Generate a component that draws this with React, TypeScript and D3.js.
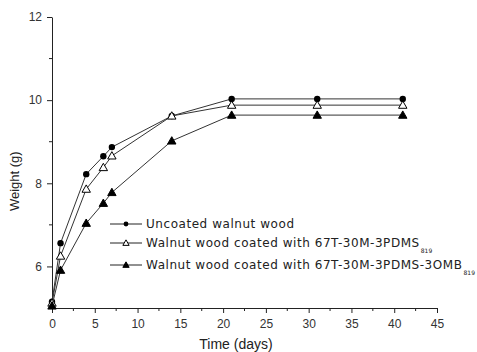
import React, { useEffect, useRef } from "react";
import * as d3 from "d3";

// days at which each sample was weighed
const days = [0, 1, 4, 6, 7, 14, 21, 31, 41];

const uncoated = [5.15, 6.56, 8.22, 8.65, 8.87, 9.62, 10.03, 10.03, 10.03];
const coatedPdms = [5.12, 6.25, 7.86, 8.38, 8.66, 9.62, 9.88, 9.88, 9.88];
const coatedOmb = [5.05, 5.91, 7.04, 7.52, 7.78, 9.02, 9.64, 9.64, 9.64];

const xTicks = [0, 5, 10, 15, 20, 25, 30, 35, 40, 45];
const yTicks = [6, 8, 10, 12];

const seriesLabels = [
  { main: "Uncoated walnut wood", sub: "" },
  { main: "Walnut wood coated with 67T-30M-3PDMS", sub: "819" },
  { main: "Walnut wood coated with  67T-30M-3PDMS-3OMB", sub: "819" },
];
const markers = ["circle", "openTriangle", "triangle"];

const W = 477;
const H = 352;

const App: React.FC = () => {
  const svgRef = useRef<SVGSVGElement>(null);

  useEffect(() => {
    if (!svgRef.current) return;
    const svg = d3.select(svgRef.current);
    svg.selectAll("*").remove();

    const margin = { top: 17, right: 40, bottom: 44, left: 52 };
    const innerH = H - margin.top - margin.bottom;
    const font = "Liberation Sans, Arial, sans-serif";
    const legendFont = "DejaVu Sans, sans-serif";

    const x = d3.scaleLinear().domain([0, 45]).range([0, 385]);
    const y = d3.scaleLinear().domain([5, 12]).range([innerH, 0]);

    const g = svg.append("g").attr("transform", `translate(${margin.left},${margin.top})`);

    // x axis
    const xAxis = g.append("g").attr("transform", `translate(0,${innerH})`);
    xAxis.call(d3.axisBottom(x).tickValues(xTicks).tickSize(5).tickSizeOuter(0).tickPadding(6));
    xAxis
      .selectAll(".minor")
      .data(d3.range(2.5, 45, 5))
      .enter()
      .append("line")
      .attr("x1", (d) => x(d))
      .attr("x2", (d) => x(d))
      .attr("y1", 0)
      .attr("y2", 3)
      .attr("stroke", "#222");

    // y axis
    const yAxis = g.append("g");
    yAxis.call(
      d3.axisLeft(y).tickValues(yTicks).tickFormat(d3.format("d")).tickSize(5).tickSizeOuter(0).tickPadding(5)
    );
    yAxis
      .selectAll(".minor")
      .data([7, 9, 11])
      .enter()
      .append("line")
      .attr("x1", 0)
      .attr("x2", -3)
      .attr("y1", (d) => y(d))
      .attr("y2", (d) => y(d))
      .attr("stroke", "#222");

    [xAxis, yAxis].forEach((a) => {
      a.selectAll("path").attr("stroke", "#222");
      a.selectAll(".tick line").attr("stroke", "#222");
      a.selectAll("text").attr("font-family", font).attr("font-size", 12).attr("fill", "#333");
    });

    // axis titles
    svg
      .append("text")
      .attr("x", margin.left + x(21.5))
      .attr("y", 349)
      .attr("text-anchor", "middle")
      .attr("font-family", font)
      .attr("font-size", 14)
      .attr("fill", "#222")
      .text("Time (days)");
    svg
      .append("text")
      .attr("transform", `translate(19,${margin.top + y(8.05)}) rotate(-90)`)
      .attr("text-anchor", "middle")
      .attr("font-family", font)
      .attr("font-size", 13)
      .attr("fill", "#222")
      .text("Weight (g)");

    const drawMarker = (
      sel: d3.Selection<SVGGElement, unknown, null, undefined>,
      kind: string,
      cx: number,
      cy: number,
      scale = 1
    ) => {
      if (kind === "circle") {
        sel.append("circle").attr("cx", cx).attr("cy", cy).attr("r", 3.2 * scale).attr("fill", "#000");
      } else {
        const s = 4.2 * scale;
        sel
          .append("path")
          .attr("d", `M${cx},${cy - s}L${cx + s},${cy + s * 0.75}L${cx - s},${cy + s * 0.75}Z`)
          .attr("fill", kind === "triangle" ? "#000" : "#fff")
          .attr("stroke", "#000")
          .attr("stroke-width", 1);
      }
    };

    const line = d3
      .line<number>()
      .x((_, i) => x(days[i]))
      .y((d) => y(d));

    [uncoated, coatedPdms, coatedOmb].forEach((vals, si) => {
      g.append("path")
        .attr("d", line(vals) as string)
        .attr("fill", "none")
        .attr("stroke", "#333")
        .attr("stroke-width", 1);
      const mg = g.append("g");
      vals.forEach((v, i) => drawMarker(mg, markers[si], x(days[i]), y(v)));
    });

    // legend
    const legY = [224, 243, 265];
    seriesLabels.forEach((lab, i) => {
      const lg = svg.append("g") as d3.Selection<SVGGElement, unknown, null, undefined>;
      lg.append("line")
        .attr("x1", 110)
        .attr("x2", 142)
        .attr("y1", legY[i])
        .attr("y2", legY[i])
        .attr("stroke", "#222");
      drawMarker(lg, markers[i], 126, legY[i], 0.75);
      const t = lg
        .append("text")
        .attr("x", 146)
        .attr("y", legY[i] + 4)
        .attr("font-family", legendFont)
        .attr("font-size", 12)
        .attr("letter-spacing", 0.55)
        .attr("fill", "#222")
        .text(lab.main);
      if (lab.sub) {
        t.append("tspan").attr("dx", 1).attr("dy", 6).attr("font-size", 6).attr("letter-spacing", 0).text(lab.sub);
      }
    });
  }, []);

  return (
    <div style={{ position: "absolute", left: 0, top: 0 }}>
      <svg ref={svgRef} width={W} height={H} style={{ display: "block" }} />
    </div>
  );
};

export default App;
